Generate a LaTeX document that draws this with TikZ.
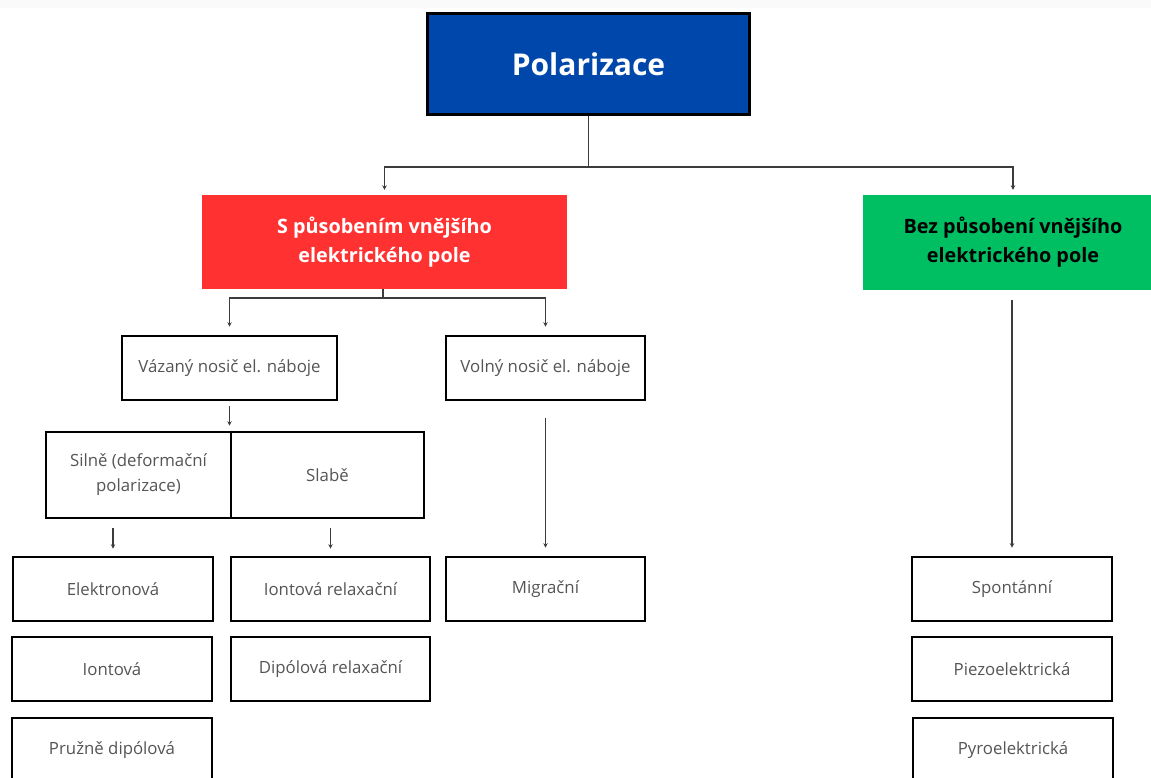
\documentclass[tikz,border=0pt]{standalone}
\usepackage{fontspec}
\setmainfont{Open Sans}
\usetikzlibrary{arrows.meta}
\definecolor{polblue}{RGB}{0,71,171}
\definecolor{polred}{RGB}{255,49,49}
\definecolor{polgreen}{RGB}{0,191,99}
\definecolor{txtgray}{RGB}{85,85,85}
\definecolor{lngray}{RGB}{60,60,60}
\begin{document}
\begin{tikzpicture}[x=1pt,y=-1pt,
  leaf/.style={draw=black, line width=2.6pt, fill=white, inner sep=0pt, align=center,
    text=txtgray, font=\fontsize{16.8}{25}\selectfont},
  head/.style={inner sep=0pt, align=center, font=\bfseries\fontsize{19.8}{29}\selectfont},
  conn/.style={draw=lngray, line width=1.3pt},
  arr/.style={conn, -{Stealth[length=4.5pt,width=4.5pt]}}]
\clip (0,0) rectangle (1151,778);
\fill[white] (0,0) rectangle (1151,778);
\fill[black!2] (0,0) rectangle (1151,8);
% top
\node[draw=black, line width=3.5pt, fill=polblue, text=white, minimum width=322pt, minimum height=101pt,
  font=\bfseries\fontsize{30}{36}\selectfont] (pol) at (588.5,64) {Polarizace};
\node[head, fill=polred, text=white, minimum width=365pt, minimum height=94pt] (red) at (384.5,242)
  {S působením vnějšího\\elektrického pole};
\node[head, fill=polgreen, text=black, minimum width=300pt, minimum height=95pt] (green) at (1013,242.5)
  {Bez působení vnějšího\\elektrického pole};
% second level
\node[leaf, minimum width=215pt, minimum height=64pt] (vaz) at (229.5,368) {Vázaný nosič el. náboje};
\node[leaf, minimum width=199pt, minimum height=64pt] (vol) at (545.5,368) {Volný nosič el. náboje};
\node[leaf, minimum width=185pt, minimum height=86pt] (sil) at (138.5,475) {Silně (deformační\\polarizace)};
\node[leaf, minimum width=193pt, minimum height=86pt] (sla) at (327.5,475) {Slabě};
% leaves
\node[leaf, minimum width=200pt, minimum height=64pt] (elek) at (113,589) {Elektronová};
\node[leaf, minimum width=199pt, minimum height=64pt] (iorel) at (330.5,589) {Iontová relaxační};
\node[leaf, minimum width=199pt, minimum height=64pt] (mig) at (545.5,589) {Migrační};
\node[leaf, minimum width=200pt, minimum height=64pt] (spon) at (1012,589) {Spontánní};
\node[leaf, minimum width=200pt, minimum height=64pt] (ion) at (112,669) {Iontová};
\node[leaf, minimum width=199pt, minimum height=64pt] (dip) at (330.5,669) {Dipólová relaxační};
\node[leaf, minimum width=200pt, minimum height=64pt] (piez) at (1012,669) {Piezoelektrická};
\node[leaf, minimum width=200pt, minimum height=64pt] (pruz) at (112,750) {Pružně dipólová};
\node[leaf, minimum width=200pt, minimum height=64pt] (pyro) at (1013,750) {Pyroelektrická};
% connectors
\coordinate (j1) at (588.5,167);
\draw[conn] (pol.south) -- (j1);
\draw[arr, shorten >=5pt] (j1) -| (red.north);
\draw[arr, shorten >=5pt] (j1) -| (green.north);
\coordinate (j2) at (383,298);
\draw[conn] (red.south -| j2) -- (j2);
\draw[arr, shorten >=8pt] (j2) -| (vaz.north);
\draw[arr, shorten >=8pt] (j2) -| (vol.north);
\draw[arr, shorten <=5pt, shorten >=5pt] (vaz.south) -- (vaz.south |- sil.north);
\draw[arr, shorten <=9pt, shorten >=7pt] (elek.north |- sil.south) -- (elek.north);
\draw[arr, shorten <=9pt, shorten >=7pt] (iorel.north |- sla.south) -- (iorel.north);
\draw[arr, shorten <=17pt, shorten >=8pt] (vol.south -| mig.north) -- (mig.north);
\draw[arr, shorten <=10pt, shorten >=8pt] (green.south -| spon.north) -- (spon.north);
\end{tikzpicture}
\end{document}
